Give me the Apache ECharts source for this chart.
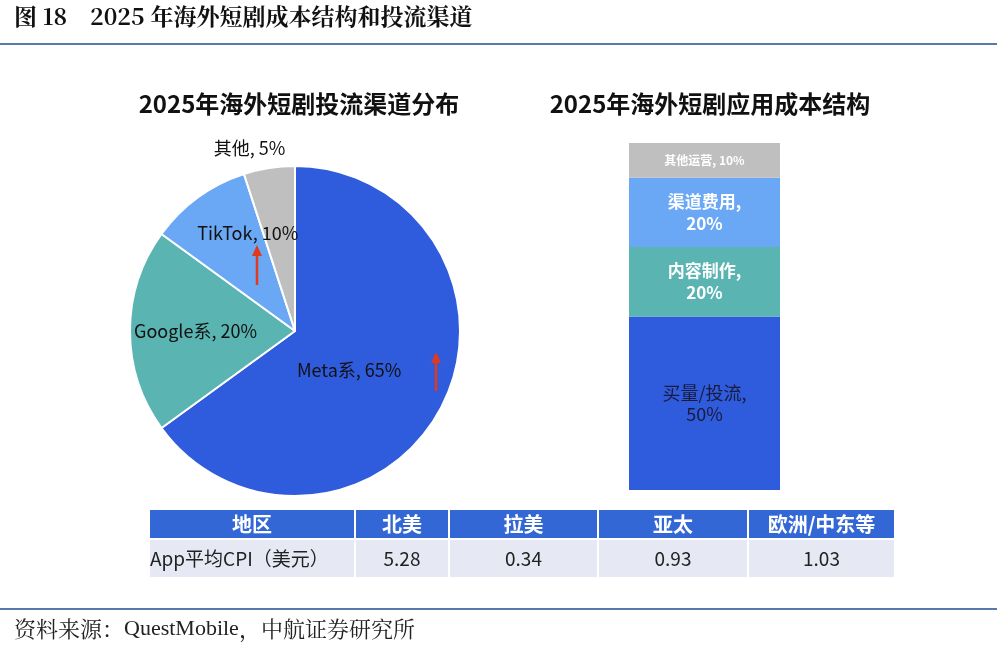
<!DOCTYPE html>
<html>
<head>
<meta charset="utf-8">
<script src="https://cdn.jsdelivr.net/npm/echarts@6/dist/echarts.min.js"></script>
<style>
  html, body { margin: 0; padding: 0; background: #fff; }
  #main { width: 997px; height: 648px; }
</style>
</head>
<body>
<div id="main"></div>
<script>
// 投流渠道分布
var channelNames = ['Meta系', 'Google系', 'TikTok', '其他'];
var channelShare = [65, 20, 10, 5];
// 成本结构（自下而上）
var costNames = ['买量/投流', '内容制作', '渠道费用', '其他运营'];
var costShare = [50, 20, 20, 10];
// 表格
var regions = ['北美', '拉美', '亚太', '欧洲/中东等'];
var cpiValues = ['5.28', '0.34', '0.93', '1.03'];

var BLUE = '#2F5BDD', TEAL = '#5AB5B2', LIGHT = '#6AA8F5', GRAY = '#BFBFBF';
var CJK = '"Noto Sans CJK SC", "Noto Sans", sans-serif';
var SERIF = '"Noto Serif CJK SC", "DejaVu Serif", "Liberation Serif", serif';

var chart = echarts.init(document.getElementById('main'));

// 饼图标签偏移（手动摆放）
var pieLabelShift = [[-22, 0], [-14, 0], [3, -29], [-32, -98]];

// 表格图形
var colX = [150, 355, 449, 598, 748, 895];
var tableEls = [];
var heads = ['地区'].concat(regions);
var cells = ['App平均CPI（美元）'].concat(cpiValues);
for (var i = 0; i < heads.length; i++) {
    var x0 = colX[i] + (i > 0 ? 1 : 0), x1 = colX[i + 1] - 1;
    tableEls.push({
        type: 'rect', shape: {x: x0, y: 510, width: x1 - x0, height: 28},
        style: {fill: '#3467D6'}
    });
    tableEls.push({
        type: 'rect', shape: {x: x0, y: 540, width: x1 - x0, height: 37},
        style: {fill: '#E6E8F3'}
    });
    tableEls.push({
        type: 'text', x: (x0 + x1) / 2, y: 524,
        style: {text: heads[i], fill: '#fff', font: 'bold 20px ' + CJK, align: 'center', verticalAlign: 'middle'}
    });
    tableEls.push({
        type: 'text', x: i === 0 ? x0 : (x0 + x1) / 2, y: 559,
        style: {text: cells[i], fill: '#222', font: '19px ' + CJK, align: i === 0 ? 'left' : 'center', verticalAlign: 'middle'}
    });
}

function arrow(x, yTop, yBottom) {
    return {
        type: 'group',
        z: 100,
        children: [{
            type: 'line', z: 100, shape: {x1: x, y1: yBottom, x2: x, y2: yTop + 8},
            style: {stroke: '#E03A1E', lineWidth: 2.5}
        }, {
            type: 'polygon', z: 100, shape: {points: [[x, yTop], [x - 5, yTop + 11], [x + 5, yTop + 11]]},
            style: {fill: '#E03A1E'}
        }]
    };
}

var option = {
    animation: false,
    backgroundColor: '#fff',
    title: [{
        text: '2025年海外短剧投流渠道分布', left: 294, top: 87, textAlign: 'center',
        textStyle: {fontFamily: CJK, fontSize: 24, fontWeight: 'bold', color: '#111'}
    }, {
        text: '2025年海外短剧应用成本结构', left: 705, top: 87, textAlign: 'center',
        textStyle: {fontFamily: CJK, fontSize: 24, fontWeight: 'bold', color: '#111'}
    }],
    grid: {left: 629, top: 143, width: 151, height: 347},
    xAxis: {type: 'category', data: ['成本'], show: false},
    yAxis: {type: 'value', min: 0, max: 100, show: false},
    graphic: [{
        type: 'text', left: 14, top: 5,
        style: {text: '图 18', font: 'bold 23px ' + SERIF, fill: '#111'}
    }, {
        type: 'text', left: 90, top: 5,
        style: {text: '2025 年海外短剧成本结构和投流渠道', font: 'bold 23px ' + SERIF, fill: '#111'}
    }, {
        type: 'line', shape: {x1: 0, y1: 44, x2: 997, y2: 44},
        style: {stroke: '#1F4E8C', lineWidth: 1.5}
    }, {
        type: 'line', shape: {x1: 0, y1: 609, x2: 997, y2: 609},
        style: {stroke: '#1F4E8C', lineWidth: 1.5}
    }, {
        type: 'text', left: 14, top: 618,
        style: {
            text: '{c|资料来源：}{l|QuestMobile}{c|，中航证券研究所}',
            fill: '#222',
            rich: {
                c: {fontFamily: SERIF, fontSize: 22, color: '#222'},
                l: {fontFamily: '"Liberation Serif", "DejaVu Serif", serif', fontSize: 22, color: '#222'}
            }
        }
    }, arrow(257, 245, 285), arrow(436, 352, 391)].concat(tableEls),
    series: [{
        type: 'pie',
        center: [295, 331],
        radius: 165,
        startAngle: 90,
        clockwise: true,
        itemStyle: {borderColor: '#fff', borderWidth: 2},
        label: {
            show: true, position: 'inside',
            fontFamily: CJK, fontSize: 18, color: '#111',
            formatter: function(p) { return p.name + ', ' + p.value + '%'; }
        },
        labelLayout: function(p) {
            var s = pieLabelShift[p.dataIndex];
            return {dx: s[0], dy: s[1]};
        },
        labelLine: {show: false},
        data: channelNames.map(function(n, i) {
            return {name: n, value: channelShare[i], itemStyle: {color: [BLUE, TEAL, LIGHT, GRAY][i]}};
        })
    }].concat(costNames.map(function(n, i) {
        var top = i === 3, bottom = i === 0;
        return {
            type: 'bar', name: n, stack: 'cost', barWidth: '100%',
            itemStyle: {color: [BLUE, TEAL, LIGHT, GRAY][i]},
            label: {
                show: true, position: 'inside',
                fontFamily: CJK,
                fontSize: top ? 12 : (bottom ? 18 : 17),
                fontWeight: bottom ? 'normal' : 'bold',
                color: bottom ? '#1A1A3A' : '#fff',
                lineHeight: bottom ? 21 : 22,
                formatter: function(p) {
                    return top ? p.seriesName + ', ' + p.value + '%' : p.seriesName + ',\n' + p.value + '%';
                }
            },
            data: [costShare[i]]
        };
    }))
};

chart.setOption(option);
window.addEventListener('resize', function() {
    chart.resize();
});
</script>
</body>
</html>
